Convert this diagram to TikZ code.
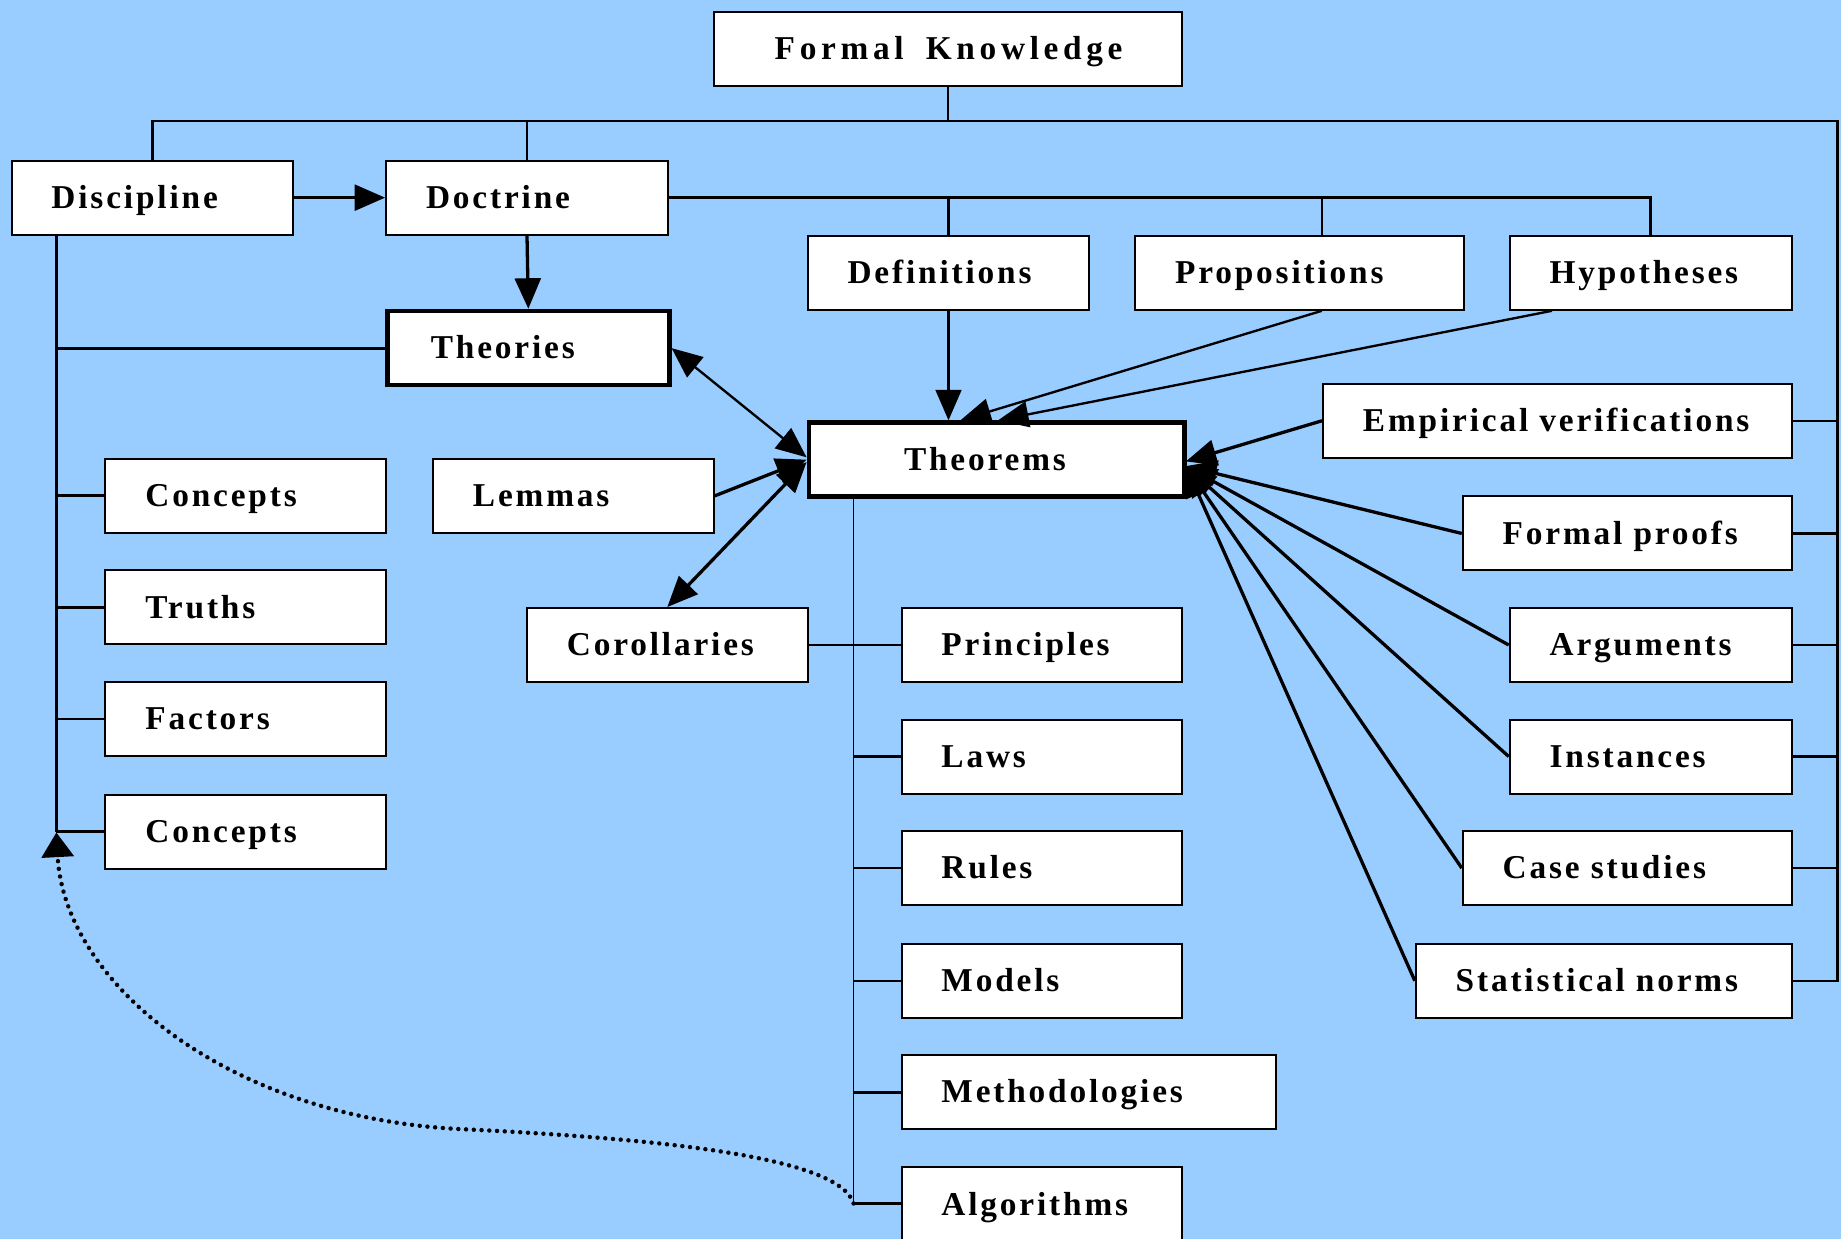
\documentclass[tikz,border=0pt]{standalone}
\usepackage{fontspec}
\setmainfont{Liberation Serif}[LetterSpace=8.5]
\usetikzlibrary{arrows.meta}
\definecolor{skyblue}{RGB}{153,204,255}

% \mkbox{options}{name}{x1}{y1}{x2}{y2}{left padding}{label}
\newcommand\mkbox[8]{%
  \pgfmathsetmacro\bxw{(#5-#3)*0.5}%
  \pgfmathsetmacro\bxh{(#6-#4)*0.5}%
  \pgfmathsetmacro\bxp{#7*0.5}%
  \node[bx,#1,anchor=north west,minimum width=\bxw pt,minimum height=\bxh pt,
        text width=\bxw pt] (#2) at (#3,#4) {\hspace*{\bxp pt}#8};}

\tikzset{
  bx/.style={draw=black, fill=white, line width=0.85pt, inner xsep=0pt, inner ysep=0pt,
             align=left, text height=9.5pt, text depth=0.5pt,
             font=\bfseries\fontsize{14.2pt}{16pt}\selectfont},
  heavy/.style={line width=2pt},
  ln/.style={draw=black, line width=1pt},
  busline/.style={draw=black, line width=1.25pt},
  stub/.style={draw=black, line width=1.1pt},
  hair/.style={draw=black, line width=0.5pt},
  head/.tip={Triangle[length=13pt,width=11pt]},
  thinarr/.style={ln, -head},
  thinboth/.style={ln, head-head},
  fatarr/.style={draw=black, line width=1.4pt, -head},
  fatboth/.style={draw=black, line width=1.4pt, head-head},
  dotlink/.style={draw=black, line width=1.9pt, line cap=round,
                  dash pattern=on 0pt off 3.3pt,
                  -{Triangle[length=10.5pt,width=13.5pt]}},
}

\begin{document}
\begin{tikzpicture}[x=0.5pt,y=-0.5pt]
\clip (0,0) rectangle (1568,1055);
\fill[skyblue] (0,0) rectangle (1568,1055);

% boxes
\mkbox{}{fk}{607}{9}{1006}{72}{52}{\addfontfeatures{LetterSpace=14}Formal\ \ Knowledge}
\mkbox{}{dis}{9}{136}{249}{199}{34}{Discipline}
\mkbox{}{doc}{328}{136}{568}{199}{34}{Doctrine}
\mkbox{}{def}{687}{200}{927}{263}{34}{Definitions}
\mkbox{}{prop}{966}{200}{1246}{263}{34}{Propositions}
\mkbox{}{hyp}{1285}{200}{1525}{263}{34}{Hypotheses}
\mkbox{heavy}{tho}{328}{263}{568}{326}{37}{Theories}
\mkbox{heavy}{thm}{687}{358}{1007}{421}{81}{Theorems}
\mkbox{}{ev}{1126}{326}{1525}{389}{34}{Empirical verifications}
\mkbox{}{conA}{89}{390}{328}{453}{34}{Concepts}
\mkbox{}{lem}{368}{390}{607}{453}{34}{Lemmas}
\mkbox{}{fp}{1245}{422}{1525}{485}{34}{Formal proofs}
\mkbox{}{tru}{89}{485}{328}{548}{34}{Truths}
\mkbox{}{cor}{448}{517}{687}{580}{34}{Corollaries}
\mkbox{}{pri}{767}{517}{1006}{580}{34}{Principles}
\mkbox{}{argu}{1285}{517}{1525}{580}{34}{Arguments}
\mkbox{}{fac}{89}{580}{328}{643}{34}{Factors}
\mkbox{}{law}{767}{612}{1006}{675}{34}{Laws}
\mkbox{}{ins}{1285}{612}{1525}{675}{34}{Instances}
\mkbox{}{conB}{89}{676}{328}{739}{34}{Concepts}
\mkbox{}{rul}{767}{707}{1006}{770}{34}{Rules}
\mkbox{}{cs}{1245}{707}{1525}{770}{34}{Case studies}
\mkbox{}{mdl}{767}{803}{1006}{866}{34}{Models}
\mkbox{}{sn}{1205}{803}{1525}{866}{34}{Statistical norms}
\mkbox{}{met}{767}{898}{1086}{961}{34}{Methodologies}
\mkbox{}{alg}{767}{993}{1006}{1058}{34}{Algorithms}

% helper points
\coordinate (busR) at (1565,103);
\coordinate (lbTop) at (48,199);
\coordinate (lbBot) at (48,709);
\coordinate (vTop) at (727,421);
\coordinate (vBot) at (727,1025);
\coordinate (thR) at (1010,397);
\coordinate (thP) at (818,358);
\coordinate (thH) at (850,358);

% top bus from Formal Knowledge
\draw[ln] (fk.south) -- (fk.south |- busR);
\draw[ln] (dis.north) |- (busR) |- (sn.east);
\draw[ln] (doc.north) -- (doc.north |- busR);
\foreach \n in {ev,fp,argu,ins,cs}
  \draw[ln] (\n.east) -- (\n.east -| busR);

% Doctrine bus
\draw[ln] (doc.east) -| (hyp.north);
\draw[ln] (def.north) -- (def.north |- doc.east);
\draw[ln] ([xshift=9.5pt]prop.north) -- ([xshift=9.5pt]prop.north |- doc.east);

% Discipline and Doctrine
\draw[fatarr] (dis.east) -- (doc.west);
\draw[fatarr] (doc.south) -- (tho.north);

% left bus
\draw[busline] (lbTop) -- (lbBot);
\foreach \n in {tho,conA,tru,fac,conB}
  \draw[busline] (\n.west) -- (\n.west -| lbTop);

% into Theorems from the left
\draw[thinboth] (tho.east) -- ([yshift=1pt]thm.west);
\draw[fatarr] (lem.east) -- (thm.west);
\draw[fatboth] (cor.north) -- ([yshift=-1pt]thm.west);

% into Theorems from above
\draw[thinarr] (def.south) -- (thm.north -| def.south);
\draw[thinarr] ([xshift=9.5pt]prop.south) -- (thP);
\draw[thinarr] ([xshift=-42pt]hyp.south) -- (thH);

% into Theorems from the right
\draw[fatarr] (ev.west) -- ([yshift=2pt]thR);
\foreach \n in {fp,argu,ins,cs,sn}
  \draw[fatarr] (\n.west) -- (thR);

% branch below Theorems
\draw[hair] (vTop) -- (vBot);
\draw[stub] (cor.east) -- (pri.west);
\foreach \n in {law,rul,mdl,met}
  \draw[stub] (\n.west) -- (\n.west -| vTop);
\draw[stub] (vBot) -- (vBot -| alg.west);

% dotted feedback link
\draw[dotlink] (vBot) .. controls (715,985) and (560,970) .. (400,962)
  .. controls (200,955) and (55,840) .. (lbBot);
\end{tikzpicture}
\end{document}
